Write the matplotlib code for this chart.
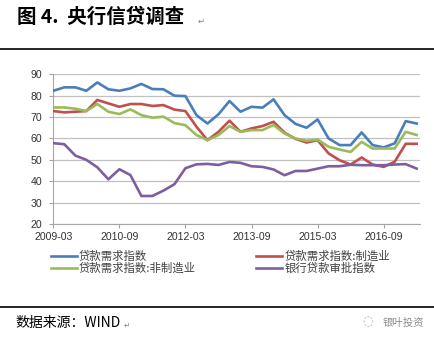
import matplotlib
matplotlib.use("Agg")
import matplotlib.pyplot as plt
from matplotlib.lines import Line2D
import numpy as np

plt.rcParams['font.family'] = ['Noto Sans CJK SC', 'DejaVu Sans']

# quarterly survey, 2009-03 .. 2017-06
quarters = [f"{y}-{m:02d}" for y in range(2009, 2018) for m in (3, 6, 9, 12)][:34]
tick_labels = ["2009-03", "2010-09", "2012-03", "2013-09", "2015-03", "2016-09"]

loan_demand = [82.3, 83.9, 83.9, 82.3, 86.2, 83.0, 82.3, 83.4, 85.5, 83.1, 83.0, 80.0,
               79.8, 70.9, 67.0, 71.3, 77.5, 72.5, 74.8, 74.4, 78.3, 70.9, 66.8, 65.0,
               68.9, 60.0, 56.9, 56.9, 62.8, 56.9, 55.8, 57.7, 68.1, 67.0]
loan_demand_mfg = [72.8, 72.2, 72.5, 72.8, 78.0, 76.4, 74.8, 76.1, 76.1, 75.2, 75.6, 73.5,
                   72.8, 65.5, 59.2, 63.1, 68.3, 63.1, 64.7, 65.8, 67.8, 62.7, 59.8, 58.1,
                   59.2, 53.0, 49.8, 47.8, 51.1, 47.8, 46.7, 49.1, 57.5, 57.5]
loan_demand_nonmfg = [74.5, 74.5, 73.9, 72.8, 76.1, 72.5, 71.4, 73.6, 70.9, 69.7, 70.2, 67.2,
                      66.2, 61.6, 59.2, 61.6, 65.8, 63.1, 63.9, 63.9, 66.3, 62.3, 60.0, 58.9,
                      59.5, 56.1, 54.8, 53.7, 58.4, 55.3, 55.3, 55.3, 63.1, 61.6]
loan_approval = [57.8, 57.3, 52.0, 50.0, 46.5, 40.9, 45.6, 42.9, 33.1, 33.1, 35.6, 38.6,
                 46.1, 47.9, 48.1, 47.6, 49.0, 48.6, 47.0, 46.7, 45.5, 42.8, 44.8, 44.8,
                 45.9, 47.0, 47.0, 47.7, 47.5, 47.5, 47.5, 47.8, 48.0, 45.9]

labels = ["贷款需求指数", "贷款需求指数:制造业", "贷款需求指数:非制造业", "银行贷款审批指数"]
colors = ["#4A7EBB", "#C0504D", "#9BBB59", "#7D5FA0"]
series = [loan_demand, loan_demand_mfg, loan_demand_nonmfg, loan_approval]

W, H = 435, 343
fig = plt.figure(figsize=(W / 100, H / 100), dpi=100)
fig.patch.set_facecolor("white")

ax = fig.add_axes([53.3 / W, 1 - 224 / H, (420 - 53.3) / W, (224 - 74.3) / H])
x = np.arange(len(quarters))
handles = []
for s, c, lab in zip(series, colors, labels):
    h, = ax.plot(x, s, color=c, lw=1.9, label=lab, zorder=3, solid_joinstyle='round')
    handles.append(h)

ax.set_ylim(20, 90)
ax.set_xlim(0, 33.3)
ax.set_yticks(range(20, 91, 10))
tick_pos = [quarters.index(t) for t in tick_labels]
ax.set_xticks(tick_pos)
ax.set_xticklabels(tick_labels)
ax.yaxis.grid(True, color="#C0C0C0", lw=0.9)
ax.set_axisbelow(True)
for sp in ["top", "right"]:
    ax.spines[sp].set_visible(False)
for sp in ["left", "bottom"]:
    ax.spines[sp].set_color("#A6A6A6")
    ax.spines[sp].set_linewidth(0.8)
ax.tick_params(axis="both", colors="#A6A6A6", length=3, width=0.8, direction="out",
               labelcolor="#333333")
ax.tick_params(axis="y", pad=5)
ax.tick_params(axis="x", pad=3)
for lbl in ax.get_xticklabels() + ax.get_yticklabels():
    lbl.set_fontfamily("Liberation Sans")
    lbl.set_fontsize(7.6)

order = [0, 2, 1, 3]
fig.legend([handles[i] for i in order], [labels[i] for i in order], ncol=2,
           loc="upper left", bbox_to_anchor=(51 / W, 1 - 251 / H), frameon=False,
           fontsize=8.2, handlelength=2.3, handletextpad=0.15, columnspacing=5.3,
           borderpad=0, borderaxespad=0, labelspacing=0.05, labelcolor="#404040")

# title and rules
fig.text(17 / W, 1 - 17 / H, "图 4.  央行信贷调查", fontsize=14, fontweight="bold",
         va="center", ha="left", color="black")
fig.text(198 / W, 1 - 21 / H, "↵", fontsize=6, va="center", ha="left", color="#808080",
         family=["DejaVu Sans"])
fig.add_artist(Line2D([0, 1], [1 - 49 / H, 1 - 49 / H], color="black", lw=1.2,
                      transform=fig.transFigure))
fig.add_artist(Line2D([0, 1], [1 - 307 / H, 1 - 307 / H], color="black", lw=1.2,
                      transform=fig.transFigure))
fig.text(15 / W, 1 - 323 / H, "数据来源：WIND", fontsize=10, style="italic",
         va="center", ha="left", color="black")
fig.text(124 / W, 1 - 325 / H, "↵", fontsize=5.5, va="center", ha="left", color="#808080",
         family=["DejaVu Sans"])
fig.text(383 / W, 1 - 323 / H, "银叶投资", fontsize=7.5, va="center", ha="left",
         color="#8C8C8C")
fig.text(368 / W, 1 - 322 / H, "◌", fontsize=9, va="center", ha="center",
         color="#B0B0B0", family=["DejaVu Sans"])

fig.savefig("out.png", dpi=100, facecolor="white")
